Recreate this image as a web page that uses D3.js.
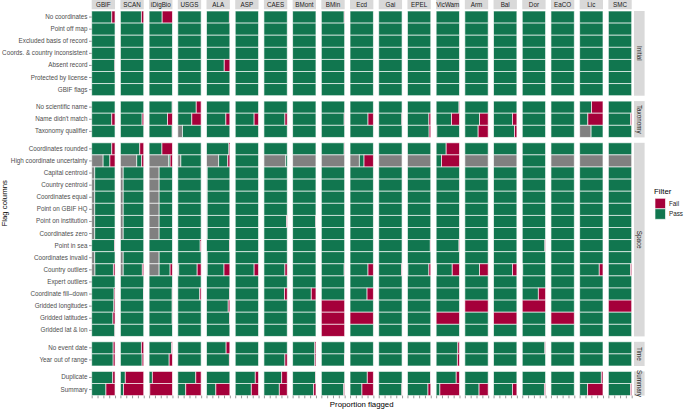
<!DOCTYPE html>
<html>
<head>
<meta charset="utf-8">
<script src="https://cdn.jsdelivr.net/npm/d3@7"></script>
<style>
  body { margin: 0; background: #fff; }
  svg { font-family: "Liberation Sans", Arial, sans-serif; display: block; }
</style>
</head>
<body>
<div id="chart"></div>
<script>
// data sources (columns of the facet grid)
const sources = ["GBIF", "SCAN", "iDigBio", "USGS", "ALA", "ASP", "CAES", "BMont", "BMin",
  "Ecd", "Gai", "EPEL", "VicWam", "Arm", "Bal", "Dor", "EaCO", "Lic", "SMC"];

const groups = ["Initial", "Taxonomy", "Space", "Time", "Summary"];

const initialFlags = ["No coordinates", "Point off map", "Excluded basis of record",
  "Coords. & country inconsistent", "Absent record", "Protected by license", "GBIF flags"];
const taxonomyFlags = ["No scientific name", "Name didn't match", "Taxonomy qualifier"];
const spaceFlags = ["Coordinates rounded", "High coordinate uncertainty", "Capital centroid",
  "Country centroid", "Coordinates equal", "Point on GBIF HQ", "Point on institution",
  "Coordinates zero", "Point in sea", "Coordinates invalid", "Country outliers",
  "Expert outliers", "Coordinate fill\u2013down", "Gridded longitudes", "Gridded latitudes",
  "Gridded lat & lon"];
const timeFlags = ["No event date", "Year out of range"];
const summaryFlags = ["Duplicate", "Summary"];

const Z = sources.map(() => 0);

// proportion failing, one row per flag, one value per source
const initialFail = [
  [0.14, 0.10, 0.44, 0, 0.02, 0, 0, 0, 0.02, 0, 0, 0, 0, 0, 0, 0, 0, 0, 0],
  Z, Z, Z,
  [0.01, 0, 0, 0, 0.24, 0, 0, 0, 0, 0, 0, 0, 0, 0, 0, 0, 0, 0, 0],
  Z, Z
];
const taxonomyFail = [
  [0, 0, 0.01, 0.21, 0, 0, 0, 0, 0, 0, 0, 0, 0.02, 0, 0, 0, 0, 0.49, 0],
  [0.14, 0.07, 0.21, 0.40, 0.17, 0.19, 0.10, 0, 0.02, 0.23, 0.01, 0.08, 0.34, 0.37, 0.19, 0, 0, 0.65, 0.05],
  [0, 0, 0.01, 0, 0, 0, 0, 0, 0, 0, 0, 0.07, 0, 0.43, 0.10, 0, 0, 0, 0]
];
const taxonomyNA = [
  Z, Z,
  [0, 0, 0, 0.20, 0, 0, 0, 0, 0, 0, 0, 0, 0.03, 0, 0, 0, 0, 0.49, 0]
];
const spaceFail = [
  [0.14, 0.17, 0.45, 0, 0.04, 0, 0, 0, 0.02, 0, 0, 0, 0.57, 0, 0, 0, 0, 0, 0],
  [0.22, 0.09, 0.10, 0, 0.09, 0, 0, 0, 0, 0.40, 0, 0, 0.77, 0, 0, 0, 0, 0, 0],
  Z, Z, Z, Z,
  [0, 0, 0, 0, 0, 0, 0.03, 0.01, 0, 0, 0, 0, 0, 0, 0, 0, 0, 0, 0],
  Z,
  [0.02, 0, 0, 0.04, 0.01, 0, 0, 0, 0, 0, 0, 0.02, 0.02, 0, 0, 0.03, 0, 0, 0],
  Z,
  [0.07, 0.06, 0.10, 0.17, 0.25, 0.19, 0.10, 0, 0.02, 0.23, 0.02, 0.08, 0.31, 0.37, 0.19, 0, 0, 0.16, 0.05],
  Z,
  [0.04, 0.01, 0.01, 0.06, 0.01, 0, 0.12, 0.20, 0, 0.27, 0, 0, 0, 0, 0, 0.31, 0, 0, 0],
  [0.05, 0, 0.01, 0, 0.07, 0, 0, 0, 1, 0, 0, 0, 0, 1, 0, 1, 0, 0, 1],
  [0.09, 0, 0.01, 0, 0.01, 0, 0, 0, 1, 1, 0, 0, 1, 0, 1, 0, 1, 0, 0],
  [0.01, 0, 0, 0, 0, 0, 0, 0, 1, 0, 0, 0, 0, 0, 0, 0, 0, 0, 0]
];
const centroidNA = [0.13, 0.12, 0.43, 0, 0.03, 0, 0, 0, 0, 0, 0, 0, 0, 0, 0, 0, 0, 0, 0];
const spaceNA = [
  Z,
  [0.49, 0.70, 0.84, 0.13, 0.52, 0, 0.93, 1, 1, 0.40, 1, 1, 0, 1, 1, 0, 1, 1, 1],
  centroidNA, centroidNA, centroidNA, centroidNA, centroidNA, centroidNA,
  Z,
  centroidNA,
  [0.14, 0.12, 0.43, 0.04, 0.03, 0, 0, 0, 0, 0, 0, 0.02, 0.02, 0, 0, 0.02, 0, 0, 0],
  Z, Z, Z, Z, Z
];
const timeFail = [
  [0.08, 0.10, 0.04, 0, 0.16, 0, 0, 0.05, 0, 0, 0, 0, 0.07, 0, 0, 0.03, 0, 0, 0],
  [0.08, 0.07, 0.14, 0, 0.02, 0, 0.10, 0.05, 0.01, 0, 0, 0, 0.09, 0, 0, 0, 0, 0, 0]
];
const summaryFail = [
  [0.10, 0.79, 0.86, 0.23, 0, 0.14, 0.24, 0.02, 0, 0.26, 0, 0.01, 0.14, 0, 0, 0, 0, 0.07, 0],
  [0.39, 0.87, 0.97, 0.66, 0.60, 0.31, 0.34, 0.10, 0.04, 0.49, 0.01, 0.12, 0.84, 0.39, 0.19, 0.05, 0, 0.66, 0.05]
];

const flagsByGroup = [initialFlags, taxonomyFlags, spaceFlags, timeFlags, summaryFlags];
const failByGroup = [initialFail, taxonomyFail, spaceFail, timeFail, summaryFail];
const naByGroup = [null, taxonomyNA, spaceNA, null, null];

const colors = { NA: "#808080", Pass: "#11764f", Fail: "#a5003a" };

const width = 685;
const height = 409;
const svg = d3.select("#chart").append("svg")
  .attr("width", width).attr("height", height);

const panelLeft = 91.7, panelRight = 631.7;
const panelTop = 11;
const rowStep = 12.1;
const groupGap = 5.4;
const stripW = 10.6;

const col = d3.scaleBand().domain(sources).range([panelLeft, panelRight]).paddingInner(0.187);
const x = d3.scaleLinear().domain([0, 1]).range([0, col.bandwidth()]);

// top strips
sources.forEach((s) => {
  svg.append("rect").attr("x", col(s)).attr("y", 0)
    .attr("width", col.bandwidth()).attr("height", 9.3).attr("fill", "#d9d9d9");
  svg.append("text").attr("x", col(s) + col.bandwidth() / 2).attr("y", 7)
    .attr("text-anchor", "middle").attr("font-size", 6.3).attr("fill", "#1a1a1a").text(s);
});

let rowTop = panelTop;
let rowBottom = 0;
groups.forEach((g, gi) => {
  const flags = flagsByGroup[gi];
  const y = d3.scaleBand().domain(flags).range([rowTop, rowTop + flags.length * rowStep]);
  const fail = failByGroup[gi];
  const na = naByGroup[gi];

  const cells = [];
  flags.forEach((f, fi) => {
    sources.forEach((s, si) => {
      const fv = fail[fi][si];
      const nv = na ? na[fi][si] : 0;
      const pv = Math.max(0, 1 - fv - nv);
      let x0 = 0;
      [["NA", nv], ["Pass", pv], ["Fail", fv]].forEach(([k, v]) => {
        if (v > 0) cells.push({ flag: f, source: s, key: k, x0: x0, x1: x0 + v });
        x0 += v;
      });
    });
  });

  svg.append("g").selectAll("rect").data(cells).join("rect")
    .attr("x", (d) => col(d.source) + x(d.x0))
    .attr("y", (d) => y(d.flag))
    .attr("width", (d) => x(d.x1) - x(d.x0))
    .attr("height", y.bandwidth())
    .attr("fill", (d) => colors[d.key])
    .attr("stroke", "#ffffff").attr("stroke-opacity", 0.7).attr("stroke-width", 0.9);

  // y axis
  const yAxis = svg.append("g").attr("transform", `translate(${panelLeft},0)`)
    .call(d3.axisLeft(y).tickSize(2.7).tickPadding(1.5));
  yAxis.select(".domain").remove();
  yAxis.selectAll("line").attr("stroke", "#333333").attr("stroke-width", 0.5);
  yAxis.selectAll("text").attr("font-size", 6.3).attr("fill", "#4d4d4d")
    .attr("font-family", "Liberation Sans, Arial, sans-serif");

  // right strip
  const [r0, r1] = y.range();
  svg.append("rect").attr("x", panelRight + 2.3).attr("y", r0)
    .attr("width", stripW).attr("height", r1 - r0).attr("fill", "#d9d9d9");
  svg.append("text")
    .attr("transform", `translate(${panelRight + 2.3 + stripW / 2 - 2.2},${(r0 + r1) / 2}) rotate(90)`)
    .attr("text-anchor", "middle").attr("font-size", 6.3).attr("fill", "#1a1a1a").text(g);

  rowBottom = r1;
  rowTop = r1 + groupGap;
});

// x axis ticks per panel, labels blank
sources.forEach((s) => {
  const ax = svg.append("g").attr("transform", `translate(${col(s)},${rowBottom})`)
    .call(d3.axisBottom(x).tickValues([0, 0.25, 0.5, 0.75, 1]).tickSize(2.7).tickFormat(""));
  ax.select(".domain").remove();
  ax.selectAll("line").attr("stroke", "#333333").attr("stroke-width", 0.5);
});

svg.append("text").attr("x", (panelLeft + panelRight) / 2).attr("y", 406.5)
  .attr("text-anchor", "middle").attr("font-size", 7.8).attr("fill", "#000").text("Proportion flagged");

svg.append("text")
  .attr("transform", `translate(7,${(panelTop + rowBottom) / 2}) rotate(-90)`)
  .attr("text-anchor", "middle").attr("font-size", 7.8).attr("fill", "#000").text("Flag columns");

// legend
const legend = svg.append("g").attr("transform", "translate(654,0)");
legend.append("text").attr("x", 0).attr("y", 194).attr("font-size", 7.8).attr("fill", "#000").text("Filter");
["Fail", "Pass"].forEach((k, i) => {
  legend.append("rect").attr("x", 1).attr("y", 198.3 + i * 10.5)
    .attr("width", 10.5).attr("height", 10.5).attr("fill", colors[k])
    .attr("stroke", "#ffffff").attr("stroke-opacity", 0.7).attr("stroke-width", 0.9);
  legend.append("text").attr("x", 15).attr("y", 198.3 + i * 10.5 + 7.6)
    .attr("font-size", 6.3).attr("fill", "#1a1a1a").text(k);
});
</script>
</body>
</html>
